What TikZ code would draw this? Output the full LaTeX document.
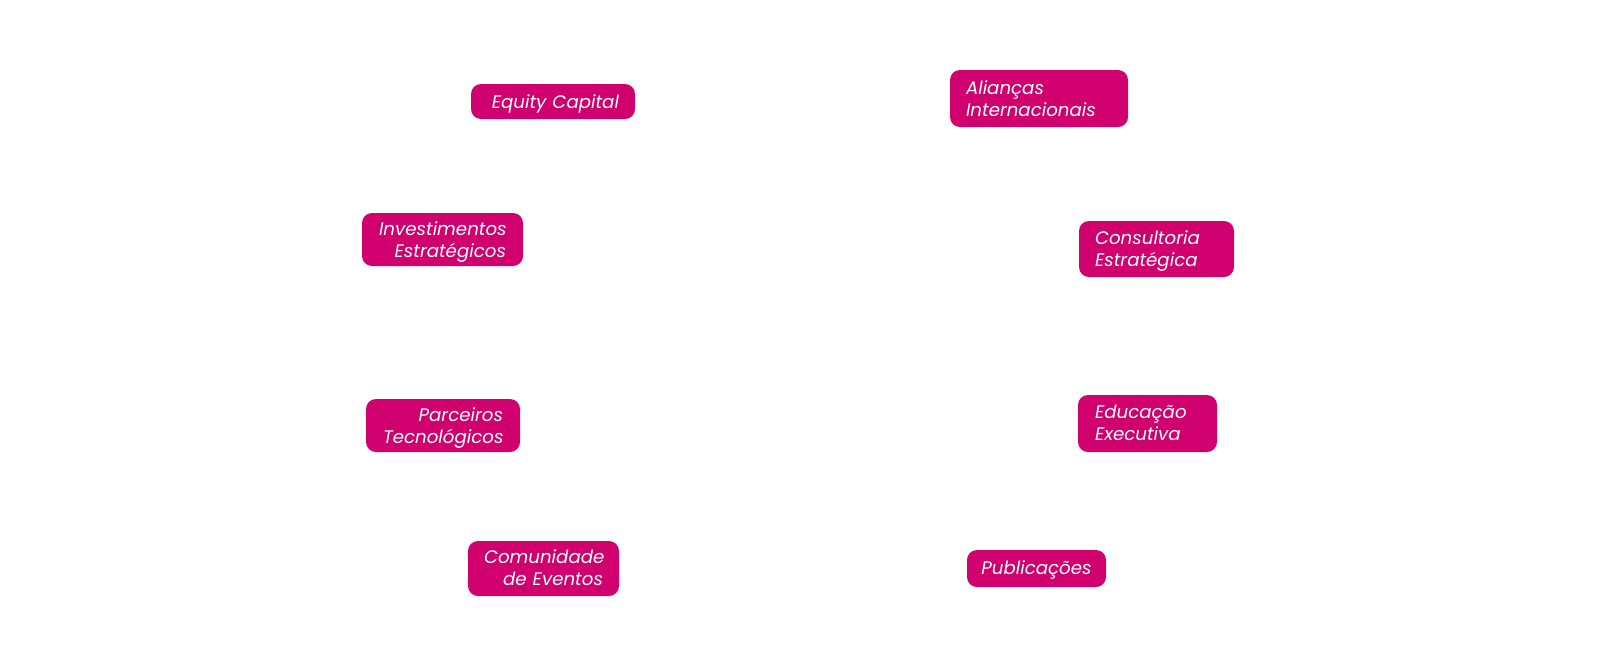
\documentclass[tikz,border=0pt]{standalone}
\usepackage{fontspec}
\setmainfont{Poppins}
\definecolor{mag}{RGB}{208,0,111}
\newcommand\dn[2]{\raisebox{-#1}[\height][\depth]{#2}}
\tikzset{
  pill/.style={fill=mag, rounded corners=10pt, text=white, inner ysep=0pt, inner xsep=16pt,
    font=\fontsize{18.2}{22}\selectfont\itshape, anchor=center},
}
\begin{document}
\begin{tikzpicture}[x=1pt,y=-1pt]
\useasboundingbox (0,0) rectangle (1597,665);
\node[pill, minimum height=35pt, text width=132pt, align=right] (equity) at (553,101.5) {\dn{2pt}{Equity Capital}};
\node[pill, minimum height=57pt, text width=146pt, align=left] (aliancas) at (1039,98.5) {Alianças\\Internacionais};
\node[pill, minimum height=53pt, text width=127pt, inner xsep=17pt, align=right] (invest) at (442.5,239.5) {\dn{3pt}{Investimentos}\\\dn{3pt}{Estratégicos}};
\node[pill, minimum height=56pt, text width=123pt, align=left] (consult) at (1156.5,249) {\dn{2.5pt}{Consultoria}\\\dn{2.5pt}{Estratégica}};
\node[pill, minimum height=53pt, text width=120pt, inner xsep=17pt, align=right] (parc) at (443,425.5) {\dn{3pt}{Parceiros}\\\dn{3pt}{Tecnológicos}};
\node[pill, minimum height=57pt, text width=105pt, inner xsep=17pt, align=left] (educ) at (1147.5,423.5) {\dn{-1pt}{Educação}\\\dn{-1pt}{Executiva}};
\node[pill, minimum height=55pt, text width=119pt, align=right] (comun) at (543.5,568.5) {\dn{-1pt}{Comunidade}\\\dn{-1pt}{de Eventos}};
\node[pill, minimum height=37pt, text width=111pt, inner xsep=14pt, align=center] (pub) at (1036.5,568.5) {\dn{1pt}{Publicações}};
\end{tikzpicture}
\end{document}
